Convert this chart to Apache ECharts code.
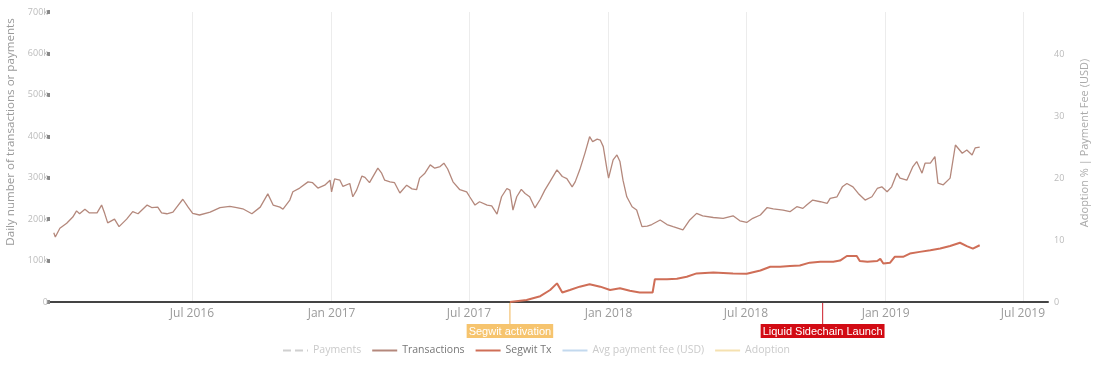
<!DOCTYPE html>
<html><head><meta charset="utf-8">
<script src="https://cdn.jsdelivr.net/npm/echarts@6/dist/echarts.min.js"></script>
<style>html,body{margin:0;padding:0;background:#fff}#c{width:1102px;height:371px}</style>
</head><body><div id="c"></div>
<script>
// Transactions (thousands per day)
const txDates = ['2016-01-01','2016-01-03','2016-01-09','2016-01-18','2016-01-26','2016-01-31','2016-02-04','2016-02-11','2016-02-17','2016-02-27',
'2016-03-04','2016-03-08','2016-03-12','2016-03-21','2016-03-27','2016-04-06','2016-04-14','2016-04-21','2016-05-03','2016-05-09',
'2016-05-17','2016-05-22','2016-05-29','2016-06-06','2016-06-11','2016-06-19','2016-06-26','2016-07-02','2016-07-11','2016-07-25',
'2016-08-07','2016-08-20','2016-08-29','2016-09-06','2016-09-18','2016-09-29','2016-10-09','2016-10-16','2016-10-25','2016-10-29',
'2016-11-07','2016-11-11','2016-11-20','2016-12-01','2016-12-07','2016-12-14','2016-12-23','2016-12-30','2017-01-01','2017-01-05',
'2017-01-12','2017-01-16','2017-01-25','2017-01-29','2017-02-03','2017-02-10','2017-02-14','2017-02-20','2017-03-03','2017-03-08',
'2017-03-12','2017-03-19','2017-03-25','2017-04-01','2017-04-10','2017-04-17','2017-04-23','2017-04-27','2017-05-04','2017-05-11',
'2017-05-17','2017-05-24','2017-05-29','2017-06-03','2017-06-10','2017-06-19','2017-06-28','2017-07-02','2017-07-09','2017-07-15',
'2017-07-25','2017-07-31','2017-08-07','2017-08-13','2017-08-20','2017-08-24','2017-08-28','2017-09-02','2017-09-08','2017-09-13',
'2017-09-19','2017-09-26','2017-10-03','2017-10-09','2017-10-16','2017-10-25','2017-11-01','2017-11-07','2017-11-14','2017-11-18',
'2017-11-24','2017-12-01','2017-12-07','2017-12-11','2017-12-17','2017-12-21','2017-12-25','2017-12-30','2018-01-01','2018-01-07',
'2018-01-12','2018-01-16','2018-01-20','2018-01-25','2018-02-01','2018-02-07','2018-02-14','2018-02-21','2018-02-27','2018-03-10',
'2018-03-19','2018-03-27','2018-04-09','2018-04-18','2018-04-27','2018-05-05','2018-05-19','2018-06-01','2018-06-14','2018-06-23',
'2018-07-02','2018-07-10','2018-07-20','2018-07-29','2018-08-06','2018-08-19','2018-08-28','2018-09-06','2018-09-14','2018-09-19',
'2018-09-27','2018-10-07','2018-10-16','2018-10-20','2018-10-29','2018-11-05','2018-11-11','2018-11-19','2018-11-26','2018-12-05',
'2018-12-14','2018-12-21','2018-12-27','2019-01-03','2019-01-09','2019-01-16','2019-01-20','2019-01-29','2019-02-06','2019-02-11',
'2019-02-18','2019-02-22','2019-03-01','2019-03-07','2019-03-11','2019-03-18','2019-03-27','2019-04-03','2019-04-12','2019-04-18',
'2019-04-25','2019-04-29','2019-05-05'];
const txValues = [167,157,178,190,205,220,213,224,215,215,
234,214,191,200,182,200,218,213,234,228,
229,215,213,217,229,248,229,214,210,217,
228,231,228,225,213,229,261,234,229,224,
246,266,275,290,288,275,282,294,266,297,
294,279,286,254,270,304,301,288,323,311,
294,290,288,263,282,273,271,299,311,331,
323,327,335,321,290,271,266,254,234,242,
234,232,212,254,274,270,222,254,272,262,
254,227,248,270,291,319,303,298,278,290,
319,360,399,387,393,391,375,319,299,343,
355,339,294,254,230,222,182,183,187,198,
187,182,174,198,214,208,204,202,208,196,
192,202,210,228,225,222,218,230,226,234,
246,242,238,250,254,278,286,278,262,246,
254,274,278,266,278,311,299,294,327,339,
311,335,335,351,287,283,299,379,359,367,
355,372,374];

// Segwit transactions (thousands per day)
const segwitDates = ['2017-08-24','2017-09-15','2017-10-03','2017-10-16','2017-10-25','2017-11-01','2017-11-11','2017-11-24','2017-12-07','2017-12-21',
'2018-01-03','2018-01-16','2018-01-29','2018-02-11','2018-02-28','2018-03-03','2018-03-19','2018-04-01','2018-04-14','2018-04-27',
'2018-05-19','2018-06-14','2018-07-02','2018-07-20','2018-08-02','2018-08-15','2018-08-28','2018-09-10','2018-09-23','2018-10-07',
'2018-10-24','2018-11-02','2018-11-11','2018-11-24','2018-11-28','2018-12-08','2018-12-21','2018-12-25','2018-12-29','2019-01-07',
'2019-01-13','2019-01-24','2019-02-02','2019-02-15','2019-03-01','2019-03-14','2019-03-27','2019-04-09','2019-04-18','2019-04-26',
'2019-05-05'];
const segwitValues = [0,5,14,29,45,23,29,37,43,37,
29,33,27,23,23,55,55,56,61,69,
71,69,68,76,85,85,87,88,95,97,
97,100,111,111,99,97,99,104,93,95,
109,109,117,121,125,129,135,143,135,129,
137];

// Series with no visible data in the picture
const paymentsValues = [];
const feeValues = [];
const adoptionValues = [];

const seriesNames = ['Payments','Transactions','Segwit Tx','Avg payment fee (USD)','Adoption'];
const xTickDates = ['2016-07-01','2017-01-01','2017-07-01','2018-01-01','2018-07-01','2019-01-01','2019-07-01'];
const monthNames = ['Jan','Feb','Mar','Apr','May','Jun','Jul','Aug','Sep','Oct','Nov','Dec'];
const xRange = ['2015-12-27','2019-08-03'];
const events = [
  {date:'2017-08-24', label:'Segwit activation', line:'#f3c070', box:'#f6c46e'},
  {date:'2018-10-10', label:'Liquid Sidechain Launch', line:'#d4404a', box:'#d20b14'}
];

const ts = s => { const p = s.split('-').map(Number); return new Date(p[0], p[1]-1, p[2]).getTime(); };
const xTicks = xTickDates.map(ts);
const FONT = 'Open Sans';

const chart = echarts.init(document.getElementById('c'));
chart.setOption({
  animation: false,
  grid: {left: 50, right: 54, top: 12, bottom: 69, outerBoundsMode: 'none', containLabel: false},
  legend: {
    left: 277, top: 340, itemWidth: 25, itemHeight: 12, itemGap: 10,
    itemStyle: {opacity: 0},
    textStyle: {fontFamily: FONT, fontSize: 10.5, color: '#777'},
    data: [
      {name: seriesNames[0], textStyle: {color: '#cacaca'}},
      {name: seriesNames[1]},
      {name: seriesNames[2]},
      {name: seriesNames[3], textStyle: {color: '#cacaca'}},
      {name: seriesNames[4], textStyle: {color: '#cacaca'}}
    ]
  },
  xAxis: {
    type: 'value', min: ts(xRange[0]), max: ts(xRange[1]),
    axisLine: {show: true, onZero: false, lineStyle: {color: '#444', width: 2}},
    axisTick: {show: false, customValues: xTicks},
    axisLabel: {customValues: xTicks, color: '#9a9a9a', fontFamily: FONT, fontSize: 12, margin: 6,
      formatter: v => { const d = new Date(v); return monthNames[d.getMonth()] + ' ' + d.getFullYear(); }},
    splitLine: {show: true, lineStyle: {color: '#ececec', width: 1}}
  },
  yAxis: [
    {type: 'value', min: 0, max: 700, interval: 100,
      name: 'Daily number of transactions or payments', nameLocation: 'middle', nameGap: 28,
      nameTextStyle: {fontFamily: FONT, fontSize: 11.6, color: '#999', padding: [0, 0, 0, 50]},
      axisLine: {show: false},
      axisTick: {show: true, length: 3, lineStyle: {color: '#888', width: 4}},
      axisLabel: {formatter: v => v === 0 ? '0' : v + 'k', color: '#bbb', fontFamily: FONT, fontSize: 9, margin: 2},
      splitLine: {show: false}},
    {type: 'value', min: 0, max: 46.77, interval: 10, position: 'right',
      name: 'Adoption % | Payment Fee (USD)', nameLocation: 'middle', nameGap: 31,
      nameTextStyle: {fontFamily: FONT, fontSize: 11, color: '#aaa', padding: [0, 0, 0, 28]},
      axisLine: {show: false}, axisTick: {show: false},
      axisLabel: {showMaxLabel: false, color: '#bbb', fontFamily: FONT, fontSize: 9, margin: 6,
        formatter: v => (v % 10 === 0 ? String(v) : '')},
      splitLine: {show: false}}
  ],
  series: [
    {name: seriesNames[0], type: 'line', symbol: 'none', data: paymentsValues,
      lineStyle: {color: '#d0d0d0', width: 1, type: 'dashed'}, itemStyle: {color: '#d0d0d0'}},
    {name: seriesNames[1], type: 'line', symbol: 'none', z: 3,
      data: txDates.map((d, i) => [ts(d), txValues[i]]),
      lineStyle: {color: '#b4887c', width: 1.3}, itemStyle: {color: '#b4887c'}},
    {name: seriesNames[2], type: 'line', symbol: 'none', z: 4,
      data: segwitDates.map((d, i) => [ts(d), segwitValues[i]]),
      lineStyle: {color: '#cf6e57', width: 2}, itemStyle: {color: '#cf6e57'}},
    {name: seriesNames[3], type: 'line', symbol: 'none', yAxisIndex: 1, data: feeValues,
      lineStyle: {color: '#c3d9ee', width: 1}, itemStyle: {color: '#c3d9ee'}},
    {name: seriesNames[4], type: 'line', symbol: 'none', yAxisIndex: 1, data: adoptionValues,
      lineStyle: {color: '#f5e1b0', width: 1}, itemStyle: {color: '#f5e1b0'}}
  ]
});

const y0 = chart.convertToPixel({yAxisIndex: 0}, 0);
const gfx = [];
events.forEach(ev => {
  const x = chart.convertToPixel({xAxisIndex: 0}, ts(ev.date));
  gfx.push({type: 'line', z: 10, shape: {x1: x, y1: y0 + 1, x2: x, y2: y0 + 22},
    style: {stroke: ev.line, lineWidth: 1.2}});
  gfx.push({type: 'text', z: 11, x: x, y: y0 + 22,
    style: {text: ev.label, fill: '#fff', backgroundColor: ev.box, padding: [2, 2, 1, 2],
      font: '11px Arial', align: 'center', verticalAlign: 'top'}});
});
chart.setOption({graphic: gfx});
</script>
</body></html>
